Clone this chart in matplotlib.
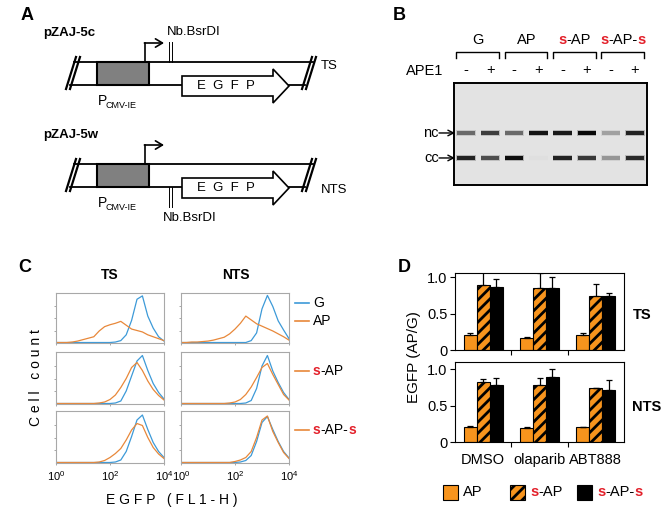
import numpy as np
import matplotlib
matplotlib.use('Agg')
import matplotlib.pyplot as plt
import matplotlib.transforms as mtransforms
from matplotlib.patches import Rectangle, Polygon
from matplotlib.offsetbox import TextArea, HPacker, AnnotationBbox

plt.rcParams['font.family'] = ['Liberation Sans', 'DejaVu Sans']
plt.rcParams['mathtext.default'] = 'regular'
plt.rcParams['hatch.linewidth'] = 2.0

W, H = 672, 509
BLUE = '#3d9ad8'
ORANGE_LINE = '#e8883a'
ORANGE = '#f7941d'
RED = '#e3202a'

# ---------------- data ----------------
# B: gel, band intensity 0-1 for lanes (G -,+ | AP -,+ | s-AP -,+ | s-AP-s -,+)
lane_groups = ['G', 'AP', 's-AP', 's-AP-s']
ape1_signs = ['-', '+', '-', '+', '-', '+', '-', '+']
nc_band = [0.55, 0.75, 0.55, 0.95, 0.92, 1.0, 0.30, 0.88]
cc_band = [0.88, 0.68, 0.97, 0.02, 0.88, 0.78, 0.35, 0.85]

# C: flow histograms, x = log10 EGFP (FL1-H), y = relative cell count
decades = [0.0, 0.2, 0.4, 0.6, 0.8, 1.0, 1.2, 1.4, 1.6, 1.8, 2.0,
           2.2, 2.4, 2.6, 2.8, 3.0, 3.2, 3.4, 3.6, 3.8, 4.0]
ts_g_1 = [0, 0, 0, 0, 0, 0, 0, 0, 0, 0, 0, .01, .04, .16, .46, .90, .97, .55, .30, .12, .03]
ts_ap_1 = [0, 0, 0, .01, .03, .06, .09, .12, .24, .33, .37, .40, .44, .36, .28, .25, .22, .16, .12, .08, .04]
nts_g_1 = [0, 0, 0, 0, 0, 0, 0, 0, 0, 0, 0, 0, 0, .04, .20, .70, .98, .75, .45, .26, .08]
nts_ap_1 = [0, 0, .01, .01, .02, .03, .05, .08, .11, .18, .28, .40, .55, .47, .39, .34, .29, .24, .18, .12, .05]
ts_g_2 = [0, 0, 0, 0, 0, 0, 0, 0, 0, 0, 0, .01, .05, .25, .55, .85, .96, .66, .40, .22, .09]
ts_sap_2 = [0, 0, 0, 0, 0, 0, 0, 0, .01, .03, .08, .17, .32, .50, .72, .82, .66, .45, .28, .16, .07]
nts_g_2 = [0, 0, 0, 0, 0, 0, 0, 0, 0, 0, 0, 0, .01, .06, .30, .75, .96, .65, .42, .22, .08]
nts_sap_2 = [0, 0, 0, 0, 0, 0, 0, 0, 0, .01, .03, .08, .18, .33, .52, .72, .80, .58, .38, .18, .07]
ts_g_3 = [0, 0, 0, 0, 0, 0, 0, 0, 0, 0, 0, .01, .05, .22, .52, .85, .95, .66, .40, .22, .10]
ts_saps_3 = [0, 0, 0, 0, 0, 0, 0, 0, .01, .04, .10, .18, .28, .45, .65, .78, .74, .50, .30, .17, .08]
nts_g_3 = [0, 0, 0, 0, 0, 0, 0, 0, 0, 0, 0, .01, .04, .14, .42, .80, .92, .66, .42, .22, .09]
nts_saps_3 = [0, 0, 0, 0, 0, 0, 0, 0, 0, 0, .02, .05, .10, .22, .50, .85, .93, .62, .40, .20, .08]

# D: EGFP (AP/G) ratios, mean and upper error
treatments = ['DMSO', 'olaparib', 'ABT888']
ts_ap = [0.20, 0.17, 0.21]
ts_ap_err = [0.03, 0.01, 0.02]
ts_sap = [0.89, 0.86, 0.74]
ts_sap_err = [0.18, 0.20, 0.17]
ts_saps = [0.87, 0.85, 0.74]
ts_saps_err = [0.11, 0.16, 0.05]
nts_ap = [0.20, 0.19, 0.20]
nts_ap_err = [0.02, 0.01, 0.01]
nts_sap = [0.83, 0.79, 0.74]
nts_sap_err = [0.03, 0.09, 0.0]
nts_saps = [0.78, 0.89, 0.71]
nts_saps_err = [0.10, 0.11, 0.14]

# ---------------- figure ----------------
fig = plt.figure(figsize=(W / 100, H / 100), dpi=100)


def px_axes(x0, y0, x1, y1):
    return fig.add_axes([x0 / W, 1 - y1 / H, (x1 - x0) / W, (y1 - y0) / H])


# overlay in pixel coordinates for schematic and labels
ov = fig.add_axes([0, 0, 1, 1])
ov.set_xlim(0, W)
ov.set_ylim(H, 0)
ov.axis('off')


def rich(x, y, parts, size=10, align=(0.5, 0.5), trans=None):
    boxes = [TextArea(t, textprops=dict(color=c, fontsize=size, fontweight=w)) for t, c, w in parts]
    pack = HPacker(children=boxes, pad=0, sep=0, align='baseline')
    ab = AnnotationBbox(pack, (x, y), xycoords=trans if trans is not None else ov.transData,
                        frameon=False, box_alignment=align, pad=0)
    ov.add_artist(ab)


S_AP = [('s', RED, 'bold'), ('-AP', 'k', 'normal')]
S_AP_S = [('s', RED, 'bold'), ('-AP-', 'k', 'normal'), ('s', RED, 'bold')]

# panel letters
for lab, (x, y) in {'A': (27, 15), 'B': (399, 15), 'C': (25, 268), 'D': (404, 268)}.items():
    ov.text(x, y, lab, fontsize=13, fontweight='bold', ha='center', va='center')

# ---------------- A: constructs ----------------
def construct(dy, name, strand, nick_top):
    top, bot = 62 + dy, 85 + dy
    lw = 1.3
    ov.text(43, 33 + dy, name, fontsize=9.5, fontweight='bold', va='center')
    ov.plot([74, 313], [top, top], color='k', lw=lw)
    ov.plot([70, 182], [bot, bot], color='k', lw=lw)
    ov.plot([289, 305], [bot, bot], color='k', lw=lw)
    for xb in (66, 70, 302, 306):
        ov.plot([xb, xb + 10], [bot + 4, top - 5], color='k', lw=1.6)
    ov.add_patch(Rectangle((97, top), 52, bot - top, fc='#808080', ec='k', lw=1.5))
    ov.plot([145, 145], [top, top - 19], color='k', lw=1.2)
    ov.annotate('', xy=(164, top - 19), xytext=(144.4, top - 19),
                arrowprops=dict(arrowstyle='->,head_length=0.5,head_width=0.3', lw=1.2,
                                color='k', shrinkA=0, shrinkB=0))
    cy = bot + 1
    ov.add_patch(Polygon([(182, cy - 10), (273, cy - 10), (273, cy - 17), (289, cy),
                          (273, cy + 17), (273, cy + 10), (182, cy + 10)],
                         closed=True, fc='white', ec='k', lw=1.2, zorder=3))
    ov.text(226, cy, 'E  G  F  P', fontsize=9.5, ha='center', va='center', zorder=4)
    ov.text(98, bot + 20, 'P', fontsize=10, ha='left', va='baseline')
    ov.text(106, bot + 23, 'CMV-IE', fontsize=6.5, ha='left', va='baseline')
    ov.text(321, top + 4 if nick_top else bot + 3, strand, fontsize=9.5, va='center')
    if nick_top:
        for xn in (168.5, 171.5):
            ov.plot([xn, xn], [top - 20, top], color='k', lw=0.7)
        ov.text(167, 32, 'Nb.BsrDI', fontsize=9.5, va='center')
    else:
        for xn in (168.5, 171.5):
            ov.plot([xn, xn], [bot, bot + 20], color='k', lw=0.7)
        ov.text(163, bot + 31, 'Nb.BsrDI', fontsize=9.5, va='center')


construct(0, 'pZAJ-5c', 'TS', True)
construct(102, 'pZAJ-5w', 'NTS', False)

# ---------------- B: gel ----------------
gel = px_axes(454, 83, 647, 185)
lanes = np.arange(1, 9)
gel.set_xlim(0.5, 8.5)
gel.set_ylim(0, 1)
gel.set_facecolor('#e3e3e3')
gel.set_xticks([])
gel.set_yticks([])
for sp in gel.spines.values():
    sp.set_linewidth(1.4)
band_pos = {'nc': 0.51, 'cc': 0.265}
for name, vals in (('nc', nc_band), ('cc', cc_band)):
    grey = [str(0.89 - 0.86 * v) for v in vals]
    halo = [str(0.89 - 0.2 * v) for v in vals]
    gel.bar(lanes, 0.06, bottom=band_pos[name] - 0.03, width=0.8, color=halo)
    gel.bar(lanes, 0.038, bottom=band_pos[name] - 0.019, width=0.76, color=grey)
    y_px = 185 - band_pos[name] * 102
    ov.text(439, y_px, name, fontsize=10.5, ha='right', va='center')
    ov.annotate('', xy=(455, y_px), xytext=(439, y_px),
                arrowprops=dict(arrowstyle='->', lw=1.0, color='k', shrinkA=0, shrinkB=0))

gtrans = mtransforms.blended_transform_factory(gel.transData, ov.transData)
for i, grp in enumerate(lane_groups):
    a, b = lanes[2 * i], lanes[2 * i + 1]
    ov.plot([a - 0.4, a - 0.4, b + 0.37, b + 0.37], [58, 52, 52, 58], color='k', lw=1.0,
            transform=gtrans)
    if grp.startswith('s'):
        rich((a + b) / 2, 40, S_AP if grp == 's-AP' else S_AP_S, size=10.5, trans=gtrans)
    else:
        ov.text((a + b) / 2, 40, grp, fontsize=10.5, ha='center', va='center', transform=gtrans)
for ln, sg in zip(lanes, ape1_signs):
    ov.text(ln, 70, sg, fontsize=10.5, ha='center', va='center', transform=gtrans)
ov.text(443, 71, 'APE1', fontsize=10.5, ha='right', va='center')

# ---------------- C: histograms ----------------
col_x = [(56, 164), (181, 289)]
row_y = [(293, 343), (352, 404), (411, 463)]
hist = [[(ts_g_1, ts_ap_1), (nts_g_1, nts_ap_1)],
        [(ts_g_2, ts_sap_2), (nts_g_2, nts_sap_2)],
        [(ts_g_3, ts_saps_3), (nts_g_3, nts_saps_3)]]
for r, (y0, y1) in enumerate(row_y):
    for c, (x0, x1) in enumerate(col_x):
        ax = px_axes(x0, y0, x1, y1)
        g, ap = hist[r][c]
        ax.plot(decades, g, color=BLUE, lw=0.9)
        ax.plot(decades, ap, color=ORANGE_LINE, lw=0.9)
        ax.set_xlim(0, 4)
        ax.set_ylim(-0.01, 1.03)
        ax.set_yticks([0.25, 0.5, 0.75])
        ax.set_yticklabels([])
        ax.set_xticks([0, 2, 4])
        ax.tick_params(length=1.5, color='#999999', width=0.6)
        for sp in ax.spines.values():
            sp.set_color('#a8a8a8')
            sp.set_linewidth(0.8)
        if r == 2:
            ax.set_xticklabels(['$10^0$', '$10^2$', '$10^4$'], fontsize=8)
            ax.tick_params(axis='x', pad=3)
        else:
            ax.set_xticklabels([])

ov.text(110, 275, 'TS', fontsize=10, fontweight='bold', ha='center', va='center')
ov.text(236, 275, 'NTS', fontsize=10, fontweight='bold', ha='center', va='center')
ov.text(36, 378, 'C e l l   c o u n t', fontsize=10, rotation=90, ha='center', va='center')
ov.text(172, 500, 'E G F P   ( F L 1 - H )', fontsize=10, ha='center', va='center')
for y, col in ((303, BLUE), (321, ORANGE_LINE), (371, ORANGE_LINE), (430, ORANGE_LINE)):
    ov.plot([295, 309], [y, y], color=col, lw=1.2)
ov.text(313, 303, 'G', fontsize=10, va='center')
ov.text(313, 321, 'AP', fontsize=10, va='center')
rich(313, 371, S_AP, size=10, align=(0, 0.5))
rich(313, 430, S_AP_S, size=10, align=(0, 0.5))

# ---------------- D: bar charts ----------------
def bar_panel(ax, ap, ap_e, sap, sap_e, saps, saps_e, ytop, labels):
    x = np.arange(len(treatments))
    w = 0.23
    z = np.zeros(len(x))
    ek = dict(ecolor='k', elinewidth=0.9, capsize=2.5, capthick=0.9)
    ax.bar(x - w, ap, w, color=ORANGE, edgecolor='k', lw=0.8, yerr=[z, ap_e], error_kw=ek)
    ax.bar(x, sap, w, color=ORANGE, edgecolor='k', lw=0.8, hatch='///', yerr=[z, sap_e], error_kw=ek)
    ax.bar(x + w, saps, w, color='k', edgecolor='k', lw=0.8, yerr=[z, saps_e], error_kw=ek)
    ax.set_xlim(-0.5, 2.5)
    ax.set_ylim(0, ytop)
    ax.set_yticks([0, 0.5, 1.0])
    ax.set_yticklabels(['0', '0.5', '1.0'], fontsize=10.5)
    ax.set_xticks([0.5, 1.5])
    ax.set_xticklabels([])
    ax.tick_params(direction='out', length=3.5, width=0.8, pad=2)
    ax.set_xticks(x, minor=True)
    if labels:
        ax.set_xticklabels(treatments, minor=True, fontsize=10.5)
    ax.tick_params(axis='x', which='minor', length=0, pad=8)
    for sp in ax.spines.values():
        sp.set_linewidth(0.8)


axt = px_axes(455, 273, 624, 350)
bar_panel(axt, ts_ap, ts_ap_err, ts_sap, ts_sap_err, ts_saps, ts_saps_err, 1.06, False)
axb = px_axes(455, 362, 624, 442)
bar_panel(axb, nts_ap, nts_ap_err, nts_sap, nts_sap_err, nts_saps, nts_saps_err, 1.1, True)

ov.text(414, 357, 'EGFP (AP/G)', fontsize=11, rotation=90, ha='center', va='center')
ov.text(642, 315, 'TS', fontsize=10.5, fontweight='bold', ha='center', va='center')
ov.text(647, 407, 'NTS', fontsize=10.5, fontweight='bold', ha='center', va='center')

# D legend
ov.add_patch(Rectangle((443, 485), 15, 15, fc=ORANGE, ec='k', lw=0.8))
ov.add_patch(Rectangle((510, 485), 15, 15, fc=ORANGE, ec='k', lw=0.8, hatch='///'))
ov.add_patch(Rectangle((577, 485), 15, 15, fc='k', ec='k', lw=0.8))
ov.text(463, 492.5, 'AP', fontsize=10.5, va='center')
rich(530, 492.5, S_AP, size=10.5, align=(0, 0.5))
rich(597, 492.5, S_AP_S, size=10.5, align=(0, 0.5))

fig.savefig('out.png', dpi=100)
